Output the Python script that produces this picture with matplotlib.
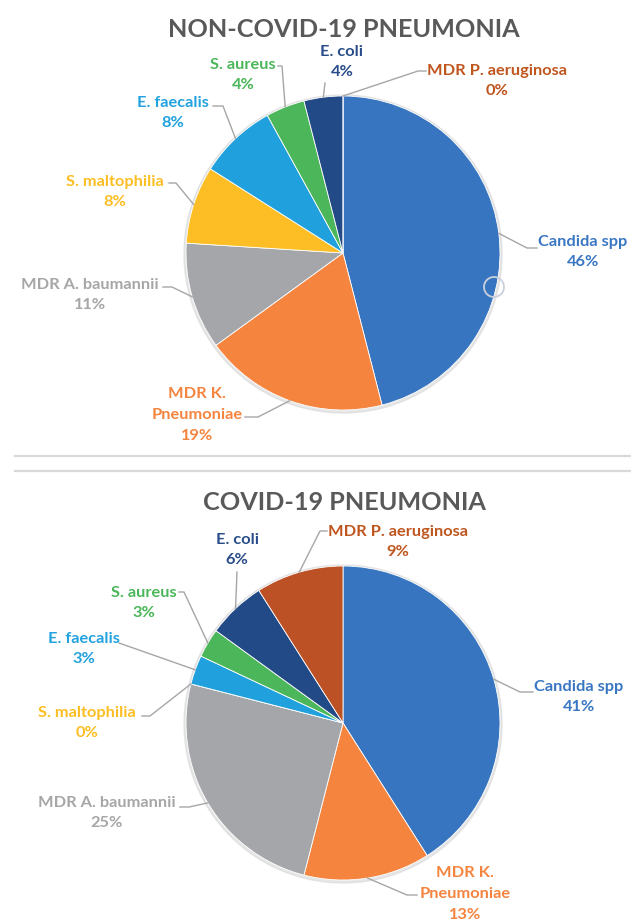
import numpy as np
import matplotlib
matplotlib.use('Agg')
import matplotlib.pyplot as plt
from matplotlib.patches import Circle

W, H = 631, 921

labels = ['Candida spp', 'MDR K.\nPneumoniae', 'MDR A. baumannii', 'S. maltophilia',
          'E. faecalis', 'S. aureus', 'E. coli', 'MDR P. aeruginosa']
non_covid = [46, 19, 11, 8, 8, 4, 4, 0]
covid = [41, 13, 25, 0, 3, 3, 6, 9]

slice_colors = ['#3875c0', '#f5843f', '#a4a6aa', '#fcbe24', '#20a0dc', '#4bb65a', '#214a86', '#bb5124']
text_colors = ['#3a77c3', '#f5843f', '#a6a6a6', '#fcbe24', '#22a2de', '#4bb65a', '#2a4d8a', '#c0561f']

plt.rcParams['font.family'] = ['Lato', 'DejaVu Sans']

fig = plt.figure(figsize=[W / 100, H / 100], dpi=100)
ax = fig.add_axes([0, 0, 1, 1])


def P(x, y):
    # pixel coords (y down) -> data coords (y up)
    return x, H - y


R = 157
# per chart: centre, title y, label text centre, label attach point, stub end
charts = [
    dict(title='NON-COVID-19 PNEUMONIA', values=non_covid, cx=343, cy=253, ty=30,
         txt=[(583, 252), (197, 415), (90, 295), (115, 192), (173, 113), (243, 75), (342, 62), (497, 81)],
         att=[(537, 248), (245, 417), (163, 287), (169, 183), (213, 106), (278, 66), (325, 83), (426, 71)],
         stub=[(527, 248), (258, 417), (172, 287), (176, 183), (223, 106), (282, 66), None, (418, 71)]),
    dict(title='COVID-19 PNEUMONIA', values=covid, cx=343, cy=723, ty=503,
         txt=[(579, 697), (465, 894), (107, 813), (87, 723), (84, 649), (144, 603), (237, 550), (398, 542)],
         att=[(533, 692), (417, 895), (180, 807), (142, 716), (119, 643), (179, 592), (237, 572), (327, 531)],
         stub=[(520, 692), (407, 895), (189, 807), (150, 716), None, (184, 592), None, (320, 531)]),
]

for ch in charts:
    vals = np.array(ch['values'], dtype=float)
    cx, cy = P(ch['cx'], ch['cy'])
    # soft shadow
    ax.add_patch(Circle((cx, cy - 1), R + 2, color='#d8d8d8', alpha=0.6, zorder=0))
    ax.pie(vals, colors=slice_colors, startangle=90, counterclock=False, radius=R,
           center=(cx, cy), wedgeprops=dict(edgecolor='white', linewidth=0.6))
    ax.text(*P(ch['cx'] + 1, ch['ty']), ch['title'], ha='center', va='center',
            fontsize=18.2, fontweight='bold', color='#595959')

    frac = np.cumsum(vals) / vals.sum()
    mids = frac - vals / vals.sum() / 2
    for i, lab in enumerate(labels):
        th = 2 * np.pi * mids[i]
        ex, ey = cx + R * np.sin(th), cy + R * np.cos(th)
        ax_, ay_ = P(*ch['att'][i])
        xs, ys = [ax_], [ay_]
        if ch['stub'][i] is not None:
            sx, sy = P(*ch['stub'][i])
            xs.append(sx)
            ys.append(sy)
        xs.append(ex)
        ys.append(ey)
        ax.plot(xs, ys, color='#a6a6a6', lw=1, zorder=3)
        pct = '{:d}%'.format(int(round(vals[i])))
        ax.text(*P(*ch['txt'][i]), lab + '\n' + pct, ha='center', va='center',
                multialignment='center', fontsize=11.8, fontweight='bold',
                color=text_colors[i], linespacing=1.62)

# selection marker left on the first chart
ax.add_patch(Circle(P(494, 287), 10, fill=False, ec='#c9d0dc', lw=1.3, zorder=4))

# chart frame borders between the two charts
for yy in [456, 471]:
    ax.plot([15, W], [H - yy, H - yy], color='#d9d9d9', lw=1.6)

ax.set_xlim(0, W)
ax.set_ylim(0, H)
ax.set_aspect('equal')
ax.axis('off')

plt.savefig('out.png', dpi=100)
